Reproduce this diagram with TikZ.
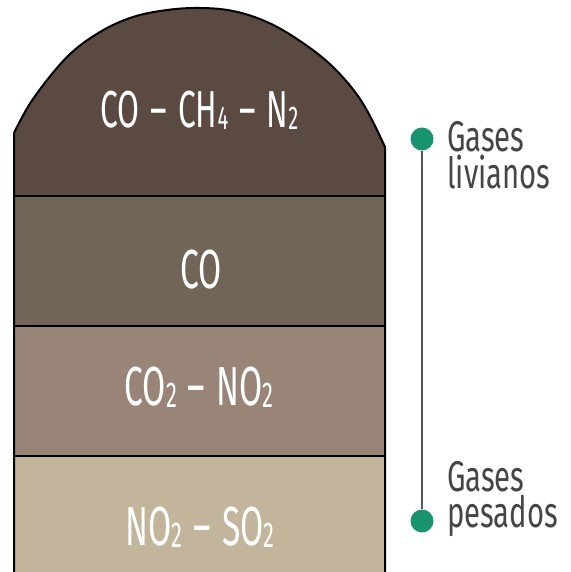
\documentclass[tikz,border=0pt]{standalone}
\usepackage{fontspec}
\setmainfont{Fira Sans}
\newfontfamily\gasfont{Fira Sans}[FakeStretch=0.61]
\newfontfamily\labfont{Fira Sans}[FakeStretch=0.68]
\definecolor{layerA}{HTML}{5A4A42}
\definecolor{layerB}{HTML}{706557}
\definecolor{layerC}{HTML}{998577}
\definecolor{layerD}{HTML}{C2B59B}
\definecolor{labgray}{HTML}{454545}
\definecolor{linegray}{HTML}{555555}
\definecolor{dotgreen}{HTML}{17936F}
\newcommand\chsub[2]{\raisebox{-2pt}{\fontsize{#1}{#1}\selectfont #2}}
\newcommand\gdash{\hspace{11pt}–\hspace{11pt}}
\tikzset{
  outline/.style={draw=black, line width=2pt},
  gastext/.style={text=white, inner sep=0pt, anchor=base, font=\gasfont},
  labtext/.style={text=labgray, inner sep=0pt, anchor=base west, align=left, font=\labfont\fontsize{43}{36}\selectfont},
  dotnode/.style={circle, fill=dotgreen, minimum size=23pt, inner sep=0pt},
  timeline/.style={draw=linegray, line width=2.5pt}
}
\begin{document}
\begin{tikzpicture}[x=1pt,y=-1pt]
\useasboundingbox (0,0) rectangle (570,572);
\fill[layerA] (14,196) -- plot[smooth, tension=0.6] coordinates {(14,133) (33,99) (67,57) (100,32) (133,17) (167,10) (200,8) (233,11) (267,22) (300,41) (333,67) (362,102) (385,147)} -- (385,196) -- cycle;
\fill[layerB] (14,196) rectangle (385,326);
\fill[layerC] (14,326) rectangle (385,456);
\fill[layerD] (14,456) rectangle (385,572);
\draw[outline] (14,572) -- plot[smooth, tension=0.6] coordinates {(14,133) (33,99) (67,57) (100,32) (133,17) (167,10) (200,8) (233,11) (267,22) (300,41) (333,67) (362,102) (385,147)} -- (385,572);
\draw[outline] (14,196) -- (385,196);
\draw[outline] (14,326) -- (385,326);
\draw[outline] (14,456) -- (385,456);

\node[gastext, font=\gasfont\fontsize{52}{52}\selectfont] (g1) at (199.5,128) {CO\gdash CH\chsub{33}{4}\gdash N\chsub{33}{2}};
\node[gastext, font=\gasfont\fontsize{55}{55}\selectfont] (g2) at (201,288) {CO};
\node[gastext, font=\gasfont\fontsize{55}{55}\selectfont] (g3) at (199,405) {CO\chsub{36}{2}\gdash NO\chsub{36}{2}};
\node[gastext, font=\gasfont\fontsize{55}{55}\selectfont] (g4) at (200,545) {NO\chsub{36}{2}\gdash SO\chsub{36}{2}};

\node[dotnode] (dtop) at (422,139) {};
\node[dotnode] (dbot) at (422,521) {};
\draw[timeline] (dtop) -- (dbot);

\node[labtext] (ltop) at (447,188) {Gases\\livianos};
\node[labtext] (lbot) at (447,527) {Gases\\pesados};
\end{tikzpicture}
\end{document}
